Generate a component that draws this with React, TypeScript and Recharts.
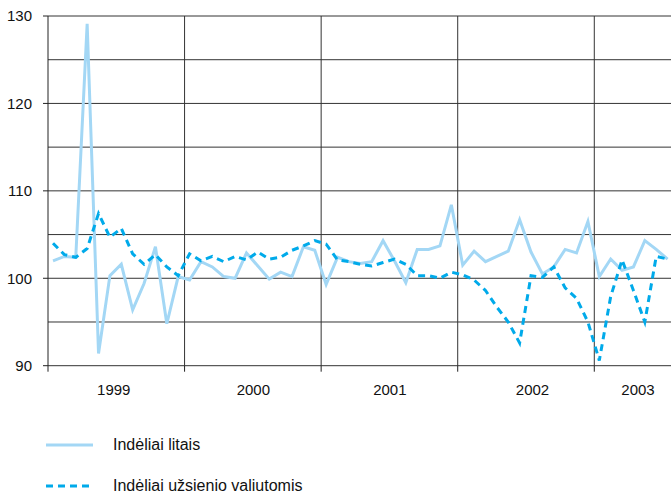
import { LineChart, Line, XAxis, YAxis, CartesianGrid, Legend } from "recharts"

// monthly index, Jan 1999 .. Jul 2003
const litais = [
  102.0, 102.5, 102.4, 129.1, 91.4, 100.3, 101.6, 96.4, 99.4, 103.6, 94.8, 100.2,
  99.8, 101.9, 101.3, 100.2, 100.0, 102.9, 101.4, 99.9, 100.7, 100.2, 103.6, 103.2,
  99.3, 102.4, 101.9, 101.7, 101.9, 104.3, 102.0, 99.5, 103.3, 103.3, 103.7, 108.4,
  101.5, 103.1, 101.9, 102.5, 103.1, 106.7, 103.0, 100.5, 101.3, 103.3, 102.9, 106.5,
  100.2, 102.2, 100.9, 101.3, 104.3, 103.3, 102.2,
]

const valiutomis = [
  104.0, 102.7, 102.4, 103.4, 107.4, 104.7, 105.7, 102.8, 101.6, 102.7, 101.3, 100.3,
  102.8, 102.0, 102.5, 101.9, 102.5, 102.1, 103.0, 102.2, 102.4, 103.2, 103.7, 104.3,
  103.9, 102.1, 101.9, 101.6, 101.4, 101.8, 102.2, 101.6, 100.3, 100.3, 100.0, 100.7,
  100.4, 99.8, 98.6, 96.7, 95.0, 92.6, 100.3, 100.1, 101.3, 98.9, 97.7, 95.0,
  90.6, 97.9, 102.1, 98.6, 95.0, 102.5, 102.2,
]

const years = ["1999", "2000", "2001", "2002", "2003"]
const yearLabelAt = [5.34, 17.6, 29.6, 42.13, 51.4]
const yearStarts = [-0.44, 11.56, 23.56, 35.56, 47.56]
const yTicks = [90, 100, 110, 120, 130]
const yGrid = [90, 95, 100, 105, 110, 115, 120, 125, 130]

const series = [
  { key: "litais", name: "Indėliai litais", color: "#a3d7f5", dash: undefined },
  { key: "valiutomis", name: "Indėliai užsienio valiutomis", color: "#00aaea", dash: "7 5" },
]

const rows = litais.map((v, i) => ({ m: i, litais: v, valiutomis: valiutomis[i] }))

const font = "'Liberation Sans', Arial, sans-serif"

function YearTick({ x, y, payload }: any) {
  const idx = yearLabelAt.indexOf(payload.value)
  if (idx >= 0) {
    return (
      <text x={x} y={y + 29} textAnchor="middle" fontSize={15} fontFamily={font} fill="#111">
        {years[idx]}
      </text>
    )
  }
  return <line x1={x} x2={x} y1={y} y2={y + 6} stroke="#222" />
}

function LegendBox() {
  return (
    <div style={{ fontFamily: font, fontSize: 16, color: "#111" }}>
      {series.map((s, i) => (
        <div
          key={s.key}
          style={{ display: "flex", alignItems: "center", height: 30, marginTop: i ? 11 : 0 }}
        >
          <svg width={47} height={6}>
            <line x1={0} x2={47} y1={3} y2={3} stroke={s.color} strokeWidth={3} strokeDasharray={s.dash} />
          </svg>
          <span style={{ marginLeft: 20 }}>{s.name}</span>
        </div>
      ))}
    </div>
  )
}

export default function App() {
  return (
    <div style={{ position: "absolute", left: 0, top: 0, background: "#fff" }}>
      <LineChart
        width={671}
        height={495}
        data={rows}
        margin={{ top: 16, right: 0, left: 0, bottom: 99.3 }}
      >
        <CartesianGrid
          stroke="#333"
          horizontalValues={yGrid}
          verticalValues={yearStarts.slice(1)}
        />
        <XAxis
          dataKey="m"
          type="number"
          domain={[-0.44, 54.3]}
          allowDataOverflow
          ticks={[...yearStarts, ...yearLabelAt]}
          interval={0}
          height={30}
          axisLine={false}
          tickLine={false}
          tickSize={0}
          tickMargin={0}
          tick={<YearTick />}
        />
        <YAxis
          domain={[90, 130]}
          ticks={yTicks}
          width={48}
          allowDataOverflow
          axisLine={{ stroke: "#222" }}
          tickLine={{ stroke: "#222" }}
          tickSize={5}
          tickMargin={11}
          tick={{ fontSize: 15, fontFamily: font, fill: "#111" }}
        />
        {series.map((s) => (
          <Line
            key={s.key}
            type="linear"
            dataKey={s.key}
            name={s.name}
            stroke={s.color}
            strokeWidth={3}
            strokeDasharray={s.dash}
            dot={false}
            activeDot={false}
            isAnimationActive={false}
          />
        ))}
        <Legend
          layout="horizontal"
          verticalAlign="middle"
          align="center"
          wrapperStyle={{ top: 430, left: 46, width: 400 }}
          content={<LegendBox />}
        />
      </LineChart>
    </div>
  )
}
